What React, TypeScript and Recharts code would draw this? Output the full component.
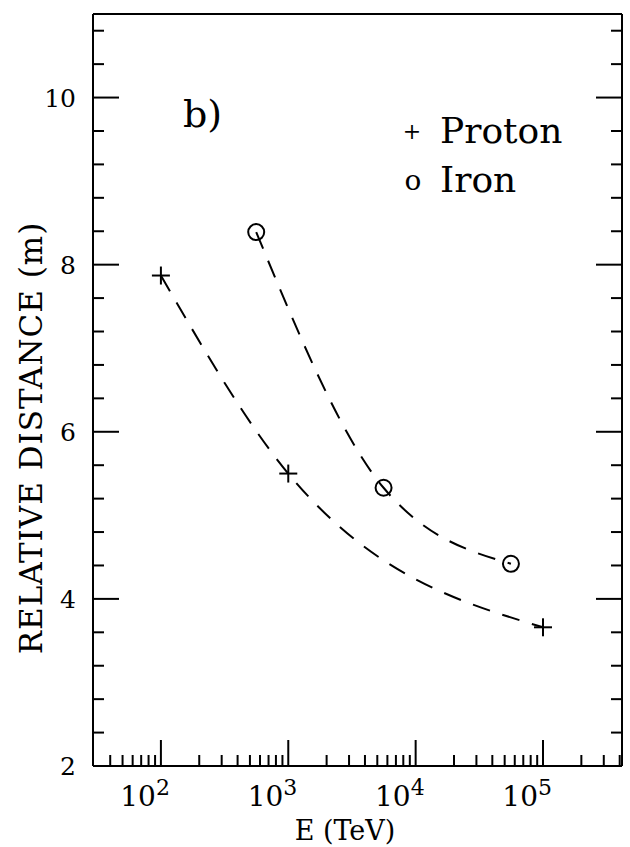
import { ComposedChart, Line, XAxis, YAxis } from 'recharts'

// values (energy in TeV, distance in m)
const protonEnergy = [1e2, 1e3, 1e5]
const protonDistance = [7.87, 5.5, 3.66]
const ironEnergy = [560, 5600, 56000]
const ironDistance = [8.39, 5.33, 4.42]

const xMajorTicks = [1e2, 1e3, 1e4, 1e5]
const xExponents = ['2', '3', '4', '5']
const xMinorTicks = [
  40, 50, 60, 70, 80, 90,
  200, 300, 400, 500, 600, 700, 800, 900,
  2000, 3000, 4000, 5000, 6000, 7000, 8000, 9000,
  20000, 30000, 40000, 50000, 60000, 70000, 80000, 90000,
  200000, 300000, 400000,
]
const yMajorTicks = [2, 4, 6, 8, 10]
const yMinorTicks = [
  2.4, 2.8, 3.2, 3.6, 4.4, 4.8, 5.2, 5.6, 6.4, 6.8, 7.2, 7.6,
  8.4, 8.8, 9.2, 9.6, 10.4, 10.8,
]

const xDomain = [29.3, 417000]
const yDomain = [2, 11]

const xTicks = [...xMajorTicks, ...xMinorTicks].sort((a, b) => a - b)
const yTicks = [...yMajorTicks, ...yMinorTicks].sort((a, b) => a - b)

const protonData = protonEnergy.map((e, i) => ({ e, d: protonDistance[i] }))
const ironData = ironEnergy.map((e, i) => ({ e, d: ironDistance[i] }))

const serif = '"DejaVu Serif", serif'
const MAJOR = 26
const MINOR = 11

function BottomTick({ x, y, payload }: any) {
  const i = xMajorTicks.indexOf(payload.value)
  const major = i >= 0
  return (
    <g>
      <line x1={x} x2={x} y1={y} y2={y - (major ? MAJOR : MINOR)} stroke="#000" strokeWidth={2} />
      {major && (
        <>
          <text x={x - 5} y={y + 40} textAnchor="end" fontFamily={serif} fontSize={28} fill="#000">
            10
          </text>
          <text x={x - 5} y={y + 29} textAnchor="start" fontFamily={serif} fontSize={22} fill="#000">
            {xExponents[i]}
          </text>
        </>
      )}
    </g>
  )
}

function TopTick({ x, y, payload }: any) {
  const major = xMajorTicks.includes(payload.value)
  return <line x1={x} x2={x} y1={y} y2={y + (major ? MAJOR : MINOR)} stroke="#000" strokeWidth={2} />
}

function LeftTick({ x, y, payload }: any) {
  const major = yMajorTicks.includes(payload.value)
  return (
    <g>
      <line x1={x} x2={x + (major ? MAJOR : MINOR)} y1={y} y2={y} stroke="#000" strokeWidth={2} />
      {major && (
        <text x={x - 17} y={y} dy="0.36em" textAnchor="end" fontFamily={serif} fontSize={25} fill="#000">
          {payload.value}
        </text>
      )}
    </g>
  )
}

function RightTick({ x, y, payload }: any) {
  const major = yMajorTicks.includes(payload.value)
  return <line x1={x} x2={x - (major ? MAJOR : MINOR)} y1={y} y2={y} stroke="#000" strokeWidth={2} />
}

function PlusDot({ cx, cy }: any) {
  if (cx == null || cy == null) return null
  return (
    <g>
      <line x1={cx - 9} x2={cx + 9} y1={cy} y2={cy} stroke="#000" strokeWidth={2} />
      <line x1={cx} x2={cx} y1={cy - 9} y2={cy + 9} stroke="#000" strokeWidth={2} />
    </g>
  )
}

function CircleDot({ cx, cy }: any) {
  if (cx == null || cy == null) return null
  return <circle cx={cx} cy={cy} r={8} fill="none" stroke="#000" strokeWidth={2} />
}

const axisLine = { stroke: '#000', strokeWidth: 2 }

export default function App() {
  return (
    <div style={{ position: 'absolute', left: 0, top: 0, width: 630, height: 847, background: '#fff' }}>
      <ComposedChart width={630} height={847} margin={{ top: 0, right: 0, bottom: 0, left: 0 }}>
        <XAxis
          xAxisId="bottom"
          dataKey="e"
          type="number"
          scale="log"
          domain={xDomain}
          allowDataOverflow
          ticks={xTicks}
          interval={0}
          tickSize={0}
          tickMargin={0}
          tickLine={false}
          axisLine={axisLine}
          tick={<BottomTick />}
          height={81}
        />
        <XAxis
          xAxisId="top"
          orientation="top"
          type="number"
          scale="log"
          domain={xDomain}
          allowDataOverflow
          ticks={xTicks}
          interval={0}
          tickSize={0}
          tickMargin={0}
          tickLine={false}
          axisLine={axisLine}
          tick={<TopTick />}
          height={14}
        />
        <YAxis
          yAxisId="left"
          type="number"
          domain={yDomain}
          allowDataOverflow
          ticks={yTicks}
          interval={0}
          tickSize={0}
          tickMargin={0}
          tickLine={false}
          axisLine={axisLine}
          tick={<LeftTick />}
          width={93}
        />
        <YAxis
          yAxisId="right"
          orientation="right"
          type="number"
          domain={yDomain}
          allowDataOverflow
          ticks={yTicks}
          interval={0}
          tickSize={0}
          tickMargin={0}
          tickLine={false}
          axisLine={axisLine}
          tick={<RightTick />}
          width={8}
        />
        <Line
          data={protonData}
          dataKey="d"
          name="Proton"
          xAxisId="bottom"
          yAxisId="left"
          type="monotone"
          stroke="#000"
          strokeWidth={2}
          strokeDasharray="18 13"
          dot={<PlusDot />}
          activeDot={false}
          isAnimationActive={false}
        />
        <Line
          data={ironData}
          dataKey="d"
          name="Iron"
          xAxisId="bottom"
          yAxisId="left"
          type="monotone"
          stroke="#000"
          strokeWidth={2}
          strokeDasharray="18 13"
          dot={<CircleDot />}
          activeDot={false}
          isAnimationActive={false}
        />
      </ComposedChart>
      <svg
        width={630}
        height={847}
        style={{ position: 'absolute', left: 0, top: 0, pointerEvents: 'none' }}
        fontFamily={serif}
        fill="#000"
      >
        <text x={183} y={127} fontSize={38}>b)</text>
        <text x={412} y={139} fontSize={22} textAnchor="middle">+</text>
        <text x={440} y={143} fontSize={36}>Proton</text>
        <text x={413} y={190} fontSize={28} textAnchor="middle">o</text>
        <text x={440} y={192} fontSize={36}>Iron</text>
        <text x={345} y={840} fontSize={27} textAnchor="middle">E (TeV)</text>
        <text
          x={42}
          y={438}
          fontSize={31}
          letterSpacing={1}
          textAnchor="middle"
          transform="rotate(-90 42 438)"
        >
          RELATIVE DISTANCE (m)
        </text>
      </svg>
    </div>
  )
}
